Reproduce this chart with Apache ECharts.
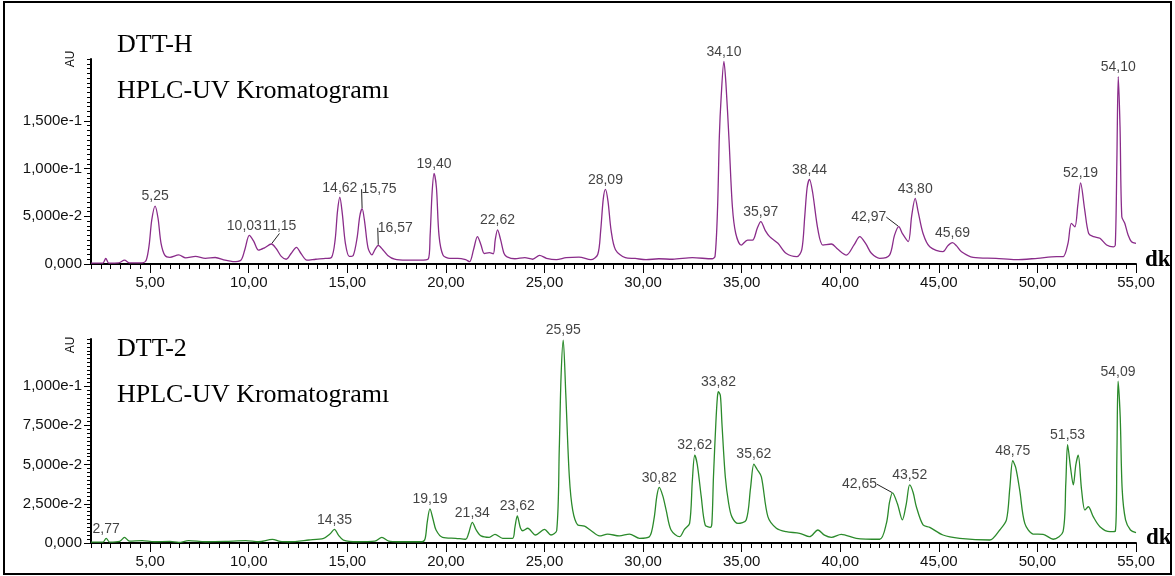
<!DOCTYPE html>
<html>
<head>
<meta charset="utf-8">
<script src="https://cdn.jsdelivr.net/npm/echarts@6/dist/echarts.min.js"></script>
<style>
  html, body { margin: 0; padding: 0; background: #ffffff; }
  #chart { width: 1175px; height: 576px; }
</style>
</head>
<body>
<div id="chart"></div>
<script>
// ---- Axis ticks and labels ----
const xTickValues = [5, 10, 15, 20, 25, 30, 35, 40, 45, 50, 55];
const xTickLabels = ['5,00', '10,00', '15,00', '20,00', '25,00', '30,00', '35,00', '40,00', '45,00', '50,00', '55,00'];
const hYTickValues = [0, 0.05, 0.1, 0.15];
const hYTickLabels = ['0,000', '5,000e-2', '1,000e-1', '1,500e-1'];
const d2YTickValues = [0, 0.025, 0.05, 0.075, 0.1];
const d2YTickLabels = ['0,000', '2,500e-2', '5,000e-2', '7,500e-2', '1,000e-1'];

// ---- DTT-H trace (retention time in min, absorbance in AU) ----
const hTime = [2.00, 2.60, 2.75, 2.90, 3.40, 3.70, 3.95, 4.60, 4.80, 4.95, 5.08, 5.40, 5.55, 5.75, 6.00, 6.45, 6.80, 7.30, 7.80, 8.30,
  8.80, 9.20, 9.60, 9.80, 10.25, 10.50, 10.80, 11.40, 11.65, 11.90, 12.15, 12.42, 12.65, 12.95, 13.40, 13.90, 14.20, 14.38, 14.50, 14.75,
  14.90, 15.10, 15.30, 15.50, 15.63, 15.88, 16.05, 16.25, 16.40, 16.80, 17.05, 17.40, 18.00, 18.70, 19.10, 19.20, 19.30, 19.52, 19.65, 19.85,
  20.20, 20.60, 21.00, 21.20, 21.40, 21.60, 21.78, 21.95, 22.20, 22.40, 22.50, 22.78, 22.95, 23.10, 23.50, 24.00, 24.40, 24.75, 25.10, 25.60,
  26.10, 26.75, 27.35, 27.70, 27.85, 27.98, 28.22, 28.38, 28.60, 29.10, 29.60, 30.15, 30.80, 31.50, 32.50, 33.50, 33.65, 33.78, 33.87, 33.96,
  34.20, 34.36, 34.53, 34.70, 34.98, 35.30, 35.55, 35.80, 36.20, 36.42, 36.84, 37.25, 37.80, 38.05, 38.20, 38.32, 38.60, 38.87, 39.12, 39.55,
  39.88, 40.31, 40.70, 40.99, 41.30, 41.58, 42.00, 42.50, 42.75, 43.15, 43.45, 43.62, 43.95, 44.20, 44.54, 45.21, 45.45, 45.90, 46.15, 46.74,
  47.90, 48.90, 50.00, 50.97, 51.30, 51.55, 51.72, 51.90, 52.05, 52.40, 52.60, 52.85, 53.17, 53.51, 53.85, 53.95, 54.03, 54.19, 54.28, 54.43,
  54.60, 54.77, 55.00];
const hAU = [0.0010, 0.0010, 0.0060, 0.0010, 0.0012, 0.0040, 0.0012, 0.0012, 0.0040, 0.0200, 0.0460, 0.0480, 0.0220, 0.0090, 0.0070, 0.0095, 0.0065, 0.0080, 0.0060, 0.0068,
  0.0040, 0.0025, 0.0040, 0.0150, 0.0240, 0.0145, 0.0170, 0.0160, 0.0080, 0.0050, 0.0110, 0.0175, 0.0110, 0.0040, 0.0050, 0.0058, 0.0070, 0.0250, 0.0550, 0.0520,
  0.0220, 0.0080, 0.0090, 0.0280, 0.0500, 0.0440, 0.0170, 0.0095, 0.0150, 0.0150, 0.0090, 0.0050, 0.0040, 0.0040, 0.0050, 0.0300, 0.0750, 0.0800, 0.0300, 0.0095,
  0.0058, 0.0060, 0.0045, 0.0024, 0.0150, 0.0287, 0.0200, 0.0110, 0.0120, 0.0107, 0.0250, 0.0250, 0.0110, 0.0075, 0.0055, 0.0066, 0.0050, 0.0090, 0.0060, 0.0045,
  0.0066, 0.0073, 0.0045, 0.0100, 0.0350, 0.0680, 0.0660, 0.0350, 0.0150, 0.0066, 0.0058, 0.0045, 0.0055, 0.0050, 0.0066, 0.0055, 0.0080, 0.0600, 0.1350, 0.1750,
  0.1900, 0.1300, 0.0600, 0.0320, 0.0199, 0.0250, 0.0250, 0.0380, 0.0350, 0.0287, 0.0217, 0.0112, 0.0077, 0.0150, 0.0500, 0.0800, 0.0750, 0.0357, 0.0199, 0.0210,
  0.0154, 0.0094, 0.0200, 0.0287, 0.0210, 0.0112, 0.0060, 0.0094, 0.0300, 0.0320, 0.0234, 0.0500, 0.0550, 0.0320, 0.0180, 0.0129, 0.0190, 0.0190, 0.0129, 0.0070,
  0.0060, 0.0045, 0.0060, 0.0077, 0.0077, 0.0217, 0.0427, 0.0390, 0.0620, 0.0566, 0.0320, 0.0287, 0.0270, 0.0200, 0.0180, 0.0200, 0.1090, 0.1440, 0.0496, 0.0427,
  0.0304, 0.0234, 0.0217];
// labelled peak apexes
const hPeakTime = [5.25, 10.03, 11.15, 14.62, 15.75, 16.57, 19.40, 22.62, 28.09, 34.10, 35.97, 38.44, 42.97, 43.80, 45.69, 52.19, 54.10];
const hPeakAU = [0.0608, 0.0300, 0.0210, 0.0700, 0.0580, 0.0196, 0.0951, 0.0357, 0.0783, 0.2125, 0.0444, 0.0888, 0.0392, 0.0689, 0.0224, 0.0850, 0.1965];

// ---- DTT-2 trace ----
const d2Time = [2.00, 2.60, 2.95, 3.45, 3.70, 3.95, 4.60, 5.20, 6.00, 6.45, 6.95, 7.80, 8.80, 9.85, 10.50, 11.20, 11.60, 12.05, 13.05, 13.80,
  14.10, 14.55, 14.80, 15.50, 16.40, 16.75, 17.10, 17.60, 18.80, 18.95, 19.05, 19.35, 19.50, 19.83, 20.50, 21.00, 21.15, 21.55, 21.78, 22.20,
  22.49, 22.88, 23.38, 23.50, 23.78, 23.90, 24.15, 24.54, 25.00, 25.33, 25.62, 25.75, 25.84, 26.08, 26.26, 26.43, 26.69, 27.03, 27.37, 27.79,
  28.20, 28.80, 29.31, 29.82, 30.32, 30.55, 30.70, 31.00, 31.17, 31.42, 31.85, 32.10, 32.36, 32.50, 32.75, 32.95, 33.15, 33.41, 33.49, 33.57,
  33.69, 33.77, 33.92, 34.00, 34.17, 34.34, 34.50, 34.81, 35.23, 35.45, 35.78, 36.00, 36.33, 36.76, 37.26, 37.94, 38.44, 38.87, 39.20, 39.55,
  40.05, 40.81, 42.00, 42.34, 42.50, 42.90, 43.15, 43.35, 43.70, 43.86, 44.20, 44.54, 45.21, 46.06, 47.58, 48.09, 48.43, 48.60, 48.90, 49.10,
  49.36, 49.78, 50.29, 50.80, 51.30, 51.44, 51.68, 51.82, 51.95, 52.07, 52.24, 52.41, 52.58, 52.83, 53.17, 53.68, 53.95, 54.03, 54.20, 54.30,
  54.47, 54.72, 55.00];
const d2AU = [0.0005, 0.0005, 0.0005, 0.0010, 0.0036, 0.0012, 0.0015, 0.0008, 0.0010, 0.0004, 0.0015, 0.0008, 0.0010, 0.0015, 0.0008, 0.0023, 0.0010, 0.0008, 0.0019, 0.0030,
  0.0055, 0.0050, 0.0019, 0.0008, 0.0012, 0.0036, 0.0012, 0.0008, 0.0008, 0.0030, 0.0130, 0.0150, 0.0083, 0.0036, 0.0030, 0.0024, 0.0060, 0.0080, 0.0045, 0.0036,
  0.0055, 0.0030, 0.0030, 0.0100, 0.0095, 0.0078, 0.0094, 0.0051, 0.0087, 0.0051, 0.0080, 0.0600, 0.1060, 0.0950, 0.0422, 0.0210, 0.0115, 0.0108, 0.0078, 0.0045,
  0.0057, 0.0045, 0.0057, 0.0030, 0.0040, 0.0150, 0.0300, 0.0300, 0.0210, 0.0083, 0.0040, 0.0087, 0.0125, 0.0400, 0.0500, 0.0295, 0.0115, 0.0100, 0.0125, 0.0422,
  0.0762, 0.0930, 0.0940, 0.0762, 0.0422, 0.0253, 0.0168, 0.0125, 0.0147, 0.0350, 0.0470, 0.0422, 0.0168, 0.0094, 0.0072, 0.0062, 0.0040, 0.0083, 0.0050, 0.0036,
  0.0055, 0.0030, 0.0024, 0.0125, 0.0260, 0.0250, 0.0147, 0.0250, 0.0320, 0.0231, 0.0115, 0.0100, 0.0051, 0.0030, 0.0019, 0.0083, 0.0147, 0.0350, 0.0480, 0.0338,
  0.0125, 0.0057, 0.0055, 0.0024, 0.0072, 0.0380, 0.0480, 0.0370, 0.0500, 0.0560, 0.0338, 0.0210, 0.0231, 0.0168, 0.0104, 0.0072, 0.0075, 0.0550, 0.0800, 0.0340,
  0.0147, 0.0083, 0.0066];
const d2PeakTime = [2.77, 14.35, 19.19, 21.34, 23.62, 25.95, 30.82, 32.62, 33.82, 35.62, 42.65, 43.52, 48.75, 51.53, 54.09];
const d2PeakAU = [0.0030, 0.0087, 0.0217, 0.0132, 0.0172, 0.1293, 0.0355, 0.0560, 0.0964, 0.0503, 0.0320, 0.0370, 0.0524, 0.0627, 0.1031];

// ---- helpers ----
function mergeTrace(times, values, peakTimes, peakValues) {
  const pts = times.map((t, i) => [t, values[i]]);
  peakTimes.forEach((t, i) => pts.push([t, peakValues[i]]));
  pts.sort((a, b) => a[0] - b[0]);
  return pts;
}
function fmtTime(t) { return t.toFixed(2).replace('.', ','); }

// labels that sit beside their peak, joined by a short leader
const shiftedLabels = {
  '10,03': { dx: -5, dy: 0, line: false },
  '11,15': { dx: 8, dy: -8, line: true },
  '15,75': { dx: 17, dy: -10, line: true },
  '16,57': { dx: 17, dy: -8, line: true },
  '42,97': { dx: -30, dy: 0, line: true },
  '42,65': { dx: -33, dy: 1, line: true }
};

const tickFont = { fontFamily: 'Liberation Sans, Arial, sans-serif', color: '#111' };

function minorX(g) {
  return {
    type: 'value', gridIndex: g, min: 2, max: 55, interval: 0.5, position: 'bottom',
    axisLine: { show: true, onZero: false, lineStyle: { color: '#000', width: 2 } },
    axisTick: { show: true, length: 5, lineStyle: { color: '#000', width: 1 } },
    axisLabel: { show: false }, splitLine: { show: false }
  };
}
function majorX(g) {
  return {
    type: 'value', gridIndex: g, min: 2, max: 55, position: 'bottom',
    axisLine: { show: false, onZero: false },
    axisTick: { show: true, customValues: xTickValues, length: 9, lineStyle: { color: '#000', width: 1 } },
    axisLabel: Object.assign({
      customValues: xTickValues, margin: 11, fontSize: 15,
      formatter: v => xTickLabels[xTickValues.indexOf(v)]
    }, tickFont),
    splitLine: { show: false }
  };
}
function minorY(g, max, step) {
  return {
    type: 'value', gridIndex: g, min: 0, max: max, interval: step, position: 'left',
    axisLine: { show: true, onZero: false, lineStyle: { color: '#000', width: 2 } },
    axisTick: { show: true, length: 4, lineStyle: { color: '#000', width: 1 } },
    axisLabel: { show: false }, splitLine: { show: false }
  };
}
function majorY(g, max, values, labels) {
  return {
    type: 'value', gridIndex: g, min: 0, max: max, position: 'left',
    axisLine: { show: false, onZero: false },
    axisTick: { show: true, customValues: values, length: 7, lineStyle: { color: '#000', width: 1 } },
    axisLabel: Object.assign({
      customValues: values, margin: 9, fontSize: 15,
      formatter: v => labels[values.indexOf(v)]
    }, tickFont),
    splitLine: { show: false }
  };
}

function traceSeries(idx, data, color) {
  return {
    type: 'line', xAxisIndex: idx, yAxisIndex: idx, data: data,
    symbol: 'none', smooth: 0.3, clip: true, silent: true,
    lineStyle: { color: color, width: 1.3 }
  };
}
function peakLabelSeries(idx, times, values) {
  return {
    type: 'scatter', xAxisIndex: idx, yAxisIndex: idx, silent: true,
    symbolSize: 1, itemStyle: { color: 'rgba(0,0,0,0)' },
    data: times.map((t, i) => {
      const name = fmtTime(t);
      const s = shiftedLabels[name];
      return {
        name: name, value: [t, values[i]],
        labelLine: { show: !!(s && s.line) }
      };
    }),
    label: {
      show: true, position: 'top', distance: 2,
      formatter: p => p.name,
      fontFamily: 'Liberation Sans, Arial, sans-serif', fontSize: 14, color: '#111'
    },
    labelLine: { show: false, lineStyle: { color: '#222', width: 1 } },
    labelLayout: function (p) {
      const s = shiftedLabels[p.text];
      return s ? { dx: s.dx, dy: s.dy } : {};
    }
  };
}

const serif = 'Liberation Serif, Times New Roman, serif';
function titleText(x, y, text) {
  return { type: 'text', x: x, y: y, silent: true,
    style: { text: text, fill: '#000', font: '26px ' + serif, textAlign: 'left', verticalAlign: 'middle' } };
}
function auText(x, y) {
  return { type: 'text', x: x, y: y, rotation: Math.PI / 2, silent: true,
    style: { text: 'AU', fill: '#111', font: '12px Liberation Sans, Arial, sans-serif', textAlign: 'center', verticalAlign: 'middle' } };
}
function dkText(x, y) {
  return { type: 'text', x: x, y: y, silent: true,
    style: { text: 'dk', fill: '#000', font: 'bold 23px ' + serif, textAlign: 'left', verticalAlign: 'middle' } };
}

const chart = echarts.init(document.getElementById('chart'), null, { renderer: 'canvas' });
chart.setOption({
  animation: false,
  backgroundColor: '#ffffff',
  grid: [
    { left: 91, right: 39, top: 59, bottom: 312, outerBoundsMode: 'none', containLabel: false },
    { left: 91, right: 39, top: 339, bottom: 33, outerBoundsMode: 'none', containLabel: false }
  ],
  xAxis: [minorX(0), majorX(0), minorX(1), majorX(1)],
  yAxis: [
    minorY(0, 0.215, 0.005),
    majorY(0, 0.215, hYTickValues, hYTickLabels),
    minorY(1, 0.13, 0.0025),
    majorY(1, 0.13, d2YTickValues, d2YTickLabels)
  ],
  series: [
    traceSeries(0, mergeTrace(hTime, hAU, hPeakTime, hPeakAU), '#8a2c8a'),
    peakLabelSeries(0, hPeakTime, hPeakAU),
    traceSeries(2, mergeTrace(d2Time, d2AU, d2PeakTime, d2PeakAU), '#2b8a2b'),
    peakLabelSeries(2, d2PeakTime, d2PeakAU)
  ],
  graphic: [
    { type: 'rect', silent: true, shape: { x: 4, y: 2, width: 1167, height: 572 },
      style: { fill: 'none', stroke: '#000', lineWidth: 2 } },
    titleText(117, 45, 'DTT-H'),
    titleText(117, 91, 'HPLC-UV Kromatogramı'),
    titleText(117, 349, 'DTT-2'),
    titleText(117, 395, 'HPLC-UV Kromatogramı'),
    auText(71, 59),
    auText(71, 345),
    dkText(1145, 260),
    dkText(1146, 538)
  ]
});
</script>
</body>
</html>
